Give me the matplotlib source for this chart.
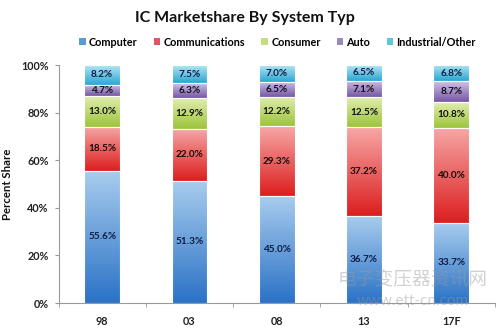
import numpy as np
import matplotlib
matplotlib.use("Agg")
import matplotlib.pyplot as plt
from matplotlib.colors import LinearSegmentedColormap
from matplotlib.patches import Rectangle, Patch

plt.rcParams['font.family'] = ['Lato', 'DejaVu Sans']

years = ["98", "03", "08", "13", "17F"]
segments = ["Computer", "Communications", "Consumer", "Auto", "Industrial/Other"]
computer = [55.6, 51.3, 45.0, 36.7, 33.7]
communications = [18.5, 22.0, 29.3, 37.2, 40.0]
consumer = [13.0, 12.9, 12.2, 12.5, 10.8]
auto = [4.7, 6.3, 6.5, 7.1, 8.7]
industrial = [8.2, 7.5, 7.0, 6.5, 6.8]
series = [computer, communications, consumer, auto, industrial]

# (top colour, bottom colour) for the vertical gradient in each segment
gradients = [
    ("#a9cdee", "#2a72c6"),
    ("#f6a8a6", "#dc1e1e"),
    ("#e1eeb0", "#9cc43a"),
    ("#cfc2e6", "#7656a6"),
    ("#b2e6f4", "#2aa6d2"),
]
legend_colors = ["#5b9bd5", "#e0556a", "#c5dc80", "#9a8ab8", "#5cc8d8"]
label_colors = ["#0c1c44", "#1a0a0a", "#111111", "#111111", "#0c1c44"]

fig = plt.figure(figsize=(5.0, 3.29), dpi=100)
ax = fig.add_axes([0.117, 0.079, 0.873, 0.723])

width = 0.41
x = np.arange(len(years))
grad = np.linspace(0, 1, 256).reshape(-1, 1)

bottoms = np.zeros(len(years))
for vals, (top_c, bot_c), lab_c in zip(series, gradients, label_colors):
    cmap = LinearSegmentedColormap.from_list("g", [bot_c, top_c])
    vals = np.array(vals)
    for i in range(len(years)):
        b = bottoms[i] / 100.0
        h = vals[i] / 100.0
        rect = Rectangle((x[i] - width / 2, b), width, h, facecolor="none",
                         edgecolor="none")
        ax.add_patch(rect)
        im = ax.imshow(grad, cmap=cmap, aspect="auto", origin="lower",
                       extent=(x[i] - width / 2, x[i] + width / 2, b, b + h),
                       zorder=2)
        im.set_clip_path(rect)
        ax.add_patch(Rectangle((x[i] - width / 2, b), width, h, facecolor="none",
                               edgecolor="white", linewidth=0.8, zorder=3))
        ax.text(x[i], b + h / 2, f"{vals[i]:.1f}%", ha="center", va="center",
                fontsize=7.2, fontweight="bold", color=lab_c, zorder=4)
    bottoms += vals

ax.set_xlim(-0.5, len(years) - 0.5)
ax.set_ylim(0, 1.0)
ax.set_yticks(np.linspace(0, 1, 6))
ax.set_yticklabels([f"{int(v)}%" for v in np.linspace(0, 100, 6)],
                   fontsize=7.8, fontweight="bold", color="#222222")
ax.set_xticks(x)
ax.set_xticklabels(years, fontsize=7.8, fontweight="bold", color="#222222")
ax.set_xticks(np.arange(-0.5, len(years), 1.0), minor=True)
ax.tick_params(axis="x", which="major", length=0, pad=9)
ax.tick_params(axis="x", which="minor", length=3, color="#999999")
ax.tick_params(axis="y", length=3, color="#999999", pad=4)

for s in ["top", "right"]:
    ax.spines[s].set_visible(False)
ax.spines["left"].set_color("#999999")
ax.spines["bottom"].set_color("#999999")

ax.set_ylabel("Percent Share", fontsize=8.2, fontweight="bold", color="#111111",
              labelpad=6)

fig.text(0.49, 0.945, "IC Marketshare By System Typ", ha="center", va="center",
         fontsize=11.5, fontweight="bold", color="#111111")

handles = [Patch(facecolor=c, edgecolor="none") for c in legend_colors]
fig.legend(handles, segments, loc="center", bbox_to_anchor=(0.555, 0.872), ncol=5,
           frameon=False, handlelength=0.6, handleheight=0.6,
           handletextpad=0.3, columnspacing=1.5,
           prop={"weight": "bold", "size": 7.8})

# site watermark
fig.text(0.826, 0.152, "电子变压器资讯网", ha="center", va="center", fontsize=13.5,
         color="#9a9a9a", alpha=0.45, family=["Noto Sans CJK SC", "DejaVu Sans"],
         zorder=10)
fig.text(0.826, 0.085, "www.ett-cn.com", ha="center", va="center", fontsize=11,
         color="#9a9a9a", alpha=0.45, zorder=10)

fig.savefig("out.png", dpi=100)
